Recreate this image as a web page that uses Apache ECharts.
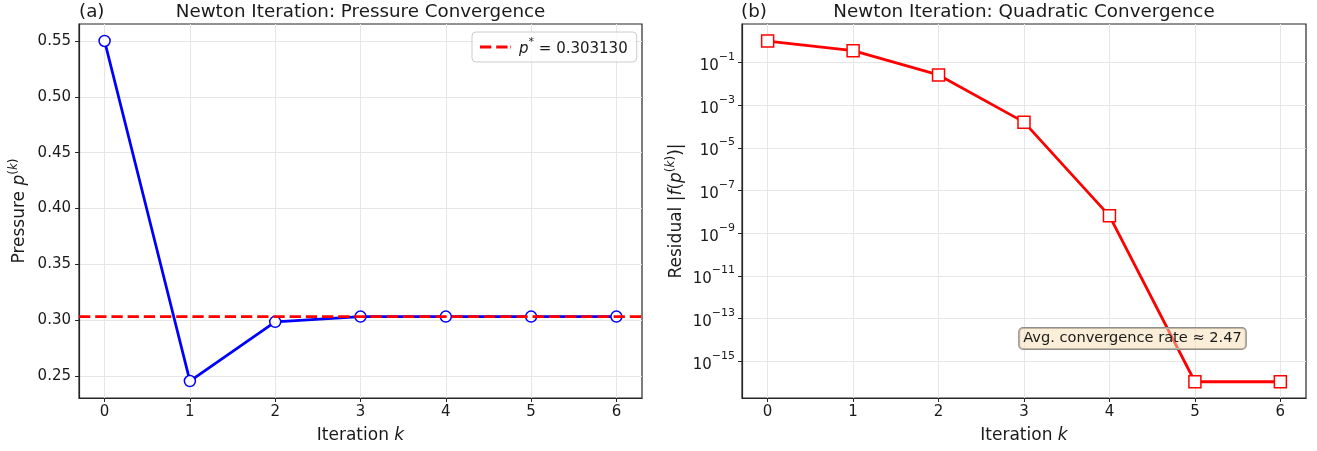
<!DOCTYPE html>
<html>
<head>
<meta charset="utf-8">
<script src="https://cdn.jsdelivr.net/npm/echarts@6/dist/echarts.min.js"></script>
<style>
html,body{margin:0;padding:0;background:#fff;}
#chart{width:1317px;height:451px;}
</style>
</head>
<body>
<div id="chart"></div>
<script>
// ---- data ----
const iterations = [0, 1, 2, 3, 4, 5, 6];
const pressure = [0.55, 0.2454, 0.2984, 0.30312, 0.30313, 0.30313, 0.30313];
const pStar = 0.303130;
const residual = [1.01, 0.355, 0.026, 1.6e-4, 6.5e-9, 1.1e-16, 1.1e-16];
const xTicks = [0, 1, 2, 3, 4, 5, 6];
const pressureTicks = [0.25, 0.30, 0.35, 0.40, 0.45, 0.50, 0.55];
const residualTicks = [1e-1, 1e-3, 1e-5, 1e-7, 1e-9, 1e-11, 1e-13, 1e-15];
const titleA = 'Newton Iteration: Pressure Convergence';
const titleB = 'Newton Iteration: Quadratic Convergence';
const rateText = 'Avg. convergence rate \u2248 2.47';

const FONT = 'DejaVu Sans';
const DARK = '#1a1a1a';
const FRAME = '#262626';
const GRIDC = '#e6e6e6';
const TICKF = 15;
const LABF = 17;
const TITLEF = 18.3;

const chart = echarts.init(document.getElementById('chart'), null, {renderer: 'canvas'});

function xAxisCfg(gridIndex) {
  return {
    type: 'value', gridIndex: gridIndex, min: -0.3, max: 6.3,
    name: '{n|Iteration }{i|k}', nameLocation: 'middle', nameGap: 29,
    nameTextStyle: {rich: {
      n: {fontFamily: FONT, fontSize: LABF, color: DARK},
      i: {fontFamily: FONT, fontSize: LABF, color: DARK, fontStyle: 'italic'}
    }},
    axisLine: {show: true, onZero: false, lineStyle: {color: FRAME, width: 1.2}},
    axisTick: {show: true, length: 4, inside: false, customValues: xTicks, lineStyle: {color: FRAME, width: 1}},
    axisLabel: {customValues: xTicks, margin: 7, fontFamily: FONT, fontSize: TICKF, color: DARK,
      formatter: v => String(v)},
    splitLine: {show: true, lineStyle: {color: GRIDC, width: 1}}
  };
}

const sup = {
  b: {fontFamily: FONT, fontSize: TICKF, color: DARK, lineHeight: 22, verticalAlign: 'bottom'},
  s: {fontFamily: FONT, fontSize: 11, color: DARK, lineHeight: 12, verticalAlign: 'top'}
};
const nameRich = {
  n: {fontFamily: FONT, fontSize: LABF, color: DARK, lineHeight: 20, verticalAlign: 'bottom'},
  i: {fontFamily: FONT, fontSize: LABF, color: DARK, fontStyle: 'italic', lineHeight: 20, verticalAlign: 'bottom'},
  s: {fontFamily: FONT, fontSize: 12, color: DARK, lineHeight: 12, verticalAlign: 'top'},
  si: {fontFamily: FONT, fontSize: 12, color: DARK, fontStyle: 'italic', lineHeight: 12, verticalAlign: 'top'}
};

const option = {
  animation: false,
  backgroundColor: '#ffffff',
  grid: [
    {left: 79, top: 24, width: 563, height: 374, show: true, borderColor: FRAME, borderWidth: 1.2, containLabel: false, outerBoundsMode: 'none'},
    {left: 742, top: 24, width: 564, height: 374, show: true, borderColor: FRAME, borderWidth: 1.2, containLabel: false, outerBoundsMode: 'none'}
  ],
  xAxis: [xAxisCfg(0), xAxisCfg(1)],
  yAxis: [
    {
      type: 'value', gridIndex: 0, min: 0.2302, max: 0.5652,
      name: '{n|Pressure }{i|p}{s|(}{si|k}{s|)}', nameLocation: 'middle', nameGap: 51,
      nameTextStyle: {rich: nameRich},
      axisLine: {show: true, onZero: false, lineStyle: {color: FRAME, width: 1.2}},
      axisTick: {show: true, length: 4, customValues: pressureTicks, lineStyle: {color: FRAME}},
      axisLabel: {customValues: pressureTicks, margin: 8, fontFamily: FONT, fontSize: TICKF, color: DARK,
        formatter: v => Number(v).toFixed(2)},
      splitLine: {show: true, lineStyle: {color: GRIDC, width: 1}}
    },
    {
      type: 'log', logBase: 10, gridIndex: 1, min: Math.pow(10, -16.72), max: Math.pow(10, 0.802),
      name: '{n|Residual |}{i|f}{n|(}{i|p}{s|(}{si|k}{s|)}{n|)|}', nameLocation: 'middle', nameGap: 57,
      nameTextStyle: {rich: nameRich},
      axisLine: {show: true, onZero: false, lineStyle: {color: FRAME, width: 1.2}},
      axisTick: {show: true, length: 4, customValues: residualTicks, lineStyle: {color: FRAME}},
      axisLabel: {customValues: residualTicks, margin: 7, color: DARK, rich: sup,
        formatter: v => {
          const e = Math.round(Math.log10(v));
          return '{b|10}{s|\u2212' + (-e) + '}';
        }},
      splitLine: {show: true, lineStyle: {color: GRIDC, width: 1}}
    }
  ],
  legend: {
    left: 472, top: 32, padding: [5, 9, 5, 8],
    backgroundColor: 'rgba(255,255,255,0.8)', borderColor: '#cccccc', borderWidth: 1, borderRadius: 4,
    itemWidth: 31, itemHeight: 3, itemGap: 8,
    icon: 'path://M0 0H11.3V3H0Z M16.2 0H27.5V3H16.2Z M30.4 0H31V3H30.4Z',
    data: [{name: 'pstar'}],
    formatter: () => '{i|p}{s|*}{n| = ' + pStar.toFixed(6) + '}',
    textStyle: {padding: [0, 0, 0, 3], rich: {
      i: {fontFamily: FONT, fontSize: TICKF, color: DARK, fontStyle: 'italic', lineHeight: 20, verticalAlign: 'bottom'},
      s: {fontFamily: FONT, fontSize: 11, color: DARK, lineHeight: 11, verticalAlign: 'top'},
      n: {fontFamily: FONT, fontSize: TICKF, color: DARK, lineHeight: 20, verticalAlign: 'bottom'}
    }}
  },
  graphic: [
    {type: 'text', style: {text: '(a)', x: 79, y: 12, verticalAlign: 'middle', font: TITLEF + 'px "' + FONT + '"', fill: DARK}},
    {type: 'text', style: {text: titleA, x: 360.5, y: 12, align: 'center', verticalAlign: 'middle', font: TITLEF + 'px "' + FONT + '"', fill: DARK}},
    {type: 'text', style: {text: '(b)', x: 741, y: 12, verticalAlign: 'middle', font: TITLEF + 'px "' + FONT + '"', fill: DARK}},
    {type: 'text', style: {text: titleB, x: 1024, y: 12, align: 'center', verticalAlign: 'middle', font: TITLEF + 'px "' + FONT + '"', fill: DARK}},
    {type: 'text', z: 100, style: {text: rateText, x: 1132.5, y: 338.5, align: 'center', verticalAlign: 'middle',
      font: '14.6px "' + FONT + '"', fill: DARK,
      backgroundColor: 'rgba(245,222,179,0.5)', borderColor: '#8f8f8f', borderWidth: 1, borderRadius: 4,
      padding: [3, 4, 3, 4]}}
  ],
  series: [
    {
      type: 'line', xAxisIndex: 0, yAxisIndex: 0, z: 2,
      data: iterations.map((k, i) => [k, pressure[i]]),
      lineStyle: {color: '#0000ff', width: 2.8},
      symbol: 'circle', symbolSize: 11,
      itemStyle: {color: '#ffffff', borderColor: '#0000ff', borderWidth: 1.5},
      emphasis: {disabled: true}
    },
    {
      name: 'pstar', type: 'line', xAxisIndex: 0, yAxisIndex: 0, z: 3,
      data: [[-0.3, pStar], [6.3, pStar]],
      symbol: 'none', showSymbol: false,
      color: '#ff0000',
      lineStyle: {color: '#ff0000', width: 2.8, type: [11.3, 4.9]},
      emphasis: {disabled: true}
    },
    {
      type: 'line', xAxisIndex: 1, yAxisIndex: 1, z: 2,
      data: iterations.map((k, i) => [k, residual[i]]),
      lineStyle: {color: '#ff0000', width: 2.8},
      symbol: 'rect', symbolSize: 12,
      itemStyle: {color: '#ffffff', borderColor: '#ff0000', borderWidth: 1.5},
      emphasis: {disabled: true}
    }
  ]
};
chart.setOption(option);
</script>
</body>
</html>
